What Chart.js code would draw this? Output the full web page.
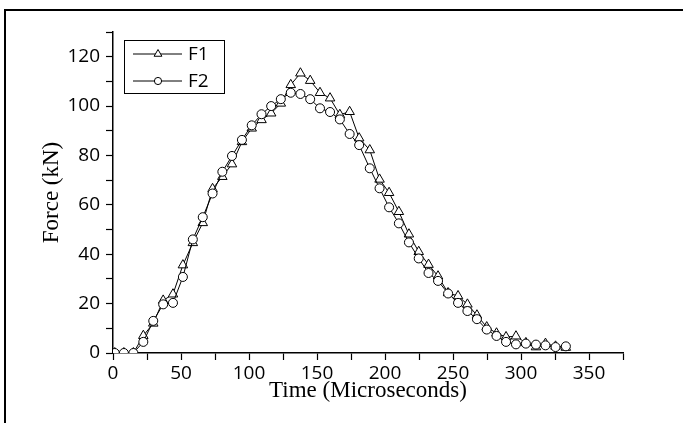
<!DOCTYPE html>
<html>
<head>
<meta charset="utf-8">
<script src="https://cdn.jsdelivr.net/npm/chart.js@4.4.1/dist/chart.umd.min.js"></script>
<style>
  html, body { margin: 0; padding: 0; background: #fff; }
  canvas { display: block; }
</style>
</head>
<body>
<canvas id="chart" width="683" height="423"></canvas>
<script>
// time in microseconds, force in kN
const timeUs = [1.3, 8, 15, 22.3, 29.6, 36.9, 44.1, 51.4, 58.7, 66, 73.2, 80.4, 87.5, 94.8, 102, 109.2,
  116.3, 123.4, 130.7, 137.8, 145, 152.2, 159.6, 166.8, 174, 181, 188.8, 196, 203, 210.2, 217.6, 224.8,
  232, 239, 246.4, 253.7, 260.6, 267.6, 274.8, 282, 289, 296.3, 303.6, 311, 318, 325.4, 333];

const forceF1 = [0, 0, 0, 7, 12, 21.3, 23.8, 35.6, 44.6, 52.7, 66.5, 71.4, 76.5, 85.5, 91, 94.4,
  97.1, 101.1, 108.6, 113.3, 110.3, 105.4, 103.2, 96.5, 97.7, 87, 82.2, 70.3, 64.9, 57.2, 48.1, 41,
  35.8, 31.1, 24.3, 23.1, 19.7, 15.3, 10.5, 8, 6.5, 6.8, 4.1, 2.4, 3.8, 2.7, 2.2];

const forceF2 = [0, 0, 0, 4.5, 13, 19.7, 20.3, 30.8, 46, 55, 64.6, 73.4, 79.8, 86.3, 92.2, 96.7,
  100, 102.8, 105.4, 104.9, 102.8, 99.1, 97.6, 94.6, 88.7, 84.2, 74.8, 66.7, 59, 52.5, 44.8, 38.3,
  32.4, 29.2, 24.1, 20.3, 17, 13.7, 9.5, 6.9, 4.5, 3.5, 3.8, 3.4, 3.1, 2.4, 2.7];

const seriesNames = ['F1', 'F2'];
const xTickLabels = [0, 50, 100, 150, 200, 250, 300, 350];
const yTickLabels = [0, 20, 40, 60, 80, 100, 120];

const tickFont = { family: '"Open Sans", sans-serif', size: 19 };
const titleFont = { family: '"Liberation Serif", "Times New Roman", serif', size: 23 };

const toPoints = (ys) => timeUs.map((t, i) => ({ x: t, y: ys[i] }));

// frame around the figure + boxed legend inside the plot
const framePlugin = {
  id: 'frameAndLegend',
  afterDraw(chart) {
    const ctx = chart.ctx;
    ctx.save();
    ctx.strokeStyle = '#000';
    ctx.lineWidth = 2;
    ctx.beginPath();
    ctx.moveTo(5, 423);
    ctx.lineTo(5, 10);
    ctx.lineTo(683, 10);
    ctx.stroke();

    // legend box
    ctx.lineWidth = 1;
    ctx.strokeRect(124.5, 40.5, 100, 53);
    ctx.font = '19px "Open Sans", sans-serif';
    ctx.fillStyle = '#000';
    ctx.textBaseline = 'middle';
    const rows = [{ y: 54, style: 'triangle' }, { y: 81, style: 'circle' }];
    rows.forEach((row, i) => {
      ctx.beginPath();
      ctx.moveTo(133, row.y);
      ctx.lineTo(182, row.y);
      ctx.stroke();
      ctx.beginPath();
      if (row.style === 'triangle') {
        const r = 4.5;
        ctx.moveTo(158, row.y - r);
        ctx.lineTo(158 + 0.866 * r, row.y + 0.5 * r);
        ctx.lineTo(158 - 0.866 * r, row.y + 0.5 * r);
        ctx.closePath();
      } else {
        ctx.arc(158, row.y, 3.6, 0, Math.PI * 2);
      }
      ctx.fillStyle = '#fff';
      ctx.fill();
      ctx.stroke();
      ctx.fillStyle = '#000';
      ctx.fillText(seriesNames[i], 188, row.y + 1);
    });
    ctx.restore();
  }
};

const ctx = document.getElementById('chart').getContext('2d');
new Chart(ctx, {
  type: 'line',
  data: {
    datasets: [
      {
        label: seriesNames[0],
        data: toPoints(forceF1),
        borderColor: '#000',
        borderWidth: 1,
        pointStyle: 'triangle',
        pointRadius: 5.5,
        pointBackgroundColor: '#fff',
        pointBorderColor: '#000',
        pointBorderWidth: 1,
        tension: 0,
        order: 1
      },
      {
        label: seriesNames[1],
        data: toPoints(forceF2),
        borderColor: '#000',
        borderWidth: 1,
        pointStyle: 'circle',
        pointRadius: 4.5,
        pointBackgroundColor: '#fff',
        pointBorderColor: '#000',
        pointBorderWidth: 1,
        tension: 0,
        order: 0
      }
    ]
  },
  options: {
    responsive: false,
    animation: false,
    layout: { padding: { top: 32, right: 60, left: 0, bottom: 0 } },
    scales: {
      x: {
        type: 'linear',
        min: 0,
        max: 375,
        afterFit: (scale) => { scale.height = 70; },
        border: { color: '#000', width: 1.5 },
        grid: { drawOnChartArea: false, drawTicks: true, tickLength: 7, color: '#000', tickWidth: 1.2 },
        ticks: {
          stepSize: 25,
          color: '#000',
          font: tickFont,
          padding: 2,
          maxRotation: 0,
          autoSkip: false,
          callback: (v) => xTickLabels.includes(v) ? v : ''
        },
        title: {
          display: true,
          text: 'Time (Microseconds)',
          color: '#000',
          font: titleFont,
          padding: { top: 0, bottom: 18 }
        }
      },
      y: {
        type: 'linear',
        min: 0,
        max: 130,
        afterFit: (scale) => { scale.width = 113; },
        border: { color: '#000', width: 1.5 },
        grid: { drawOnChartArea: false, drawTicks: true, tickLength: 7, color: '#000', tickWidth: 1.2 },
        ticks: {
          stepSize: 10,
          color: '#000',
          font: tickFont,
          padding: 6,
          autoSkip: false,
          callback: (v) => yTickLabels.includes(v) ? v : ''
        },
        title: {
          display: true,
          text: 'Force (kN)',
          color: '#000',
          font: titleFont,
          padding: { top: 38, bottom: 0 }
        }
      }
    },
    plugins: {
      legend: { display: false },
      tooltip: { enabled: false }
    }
  },
  plugins: [framePlugin]
});
</script>
</body>
</html>
